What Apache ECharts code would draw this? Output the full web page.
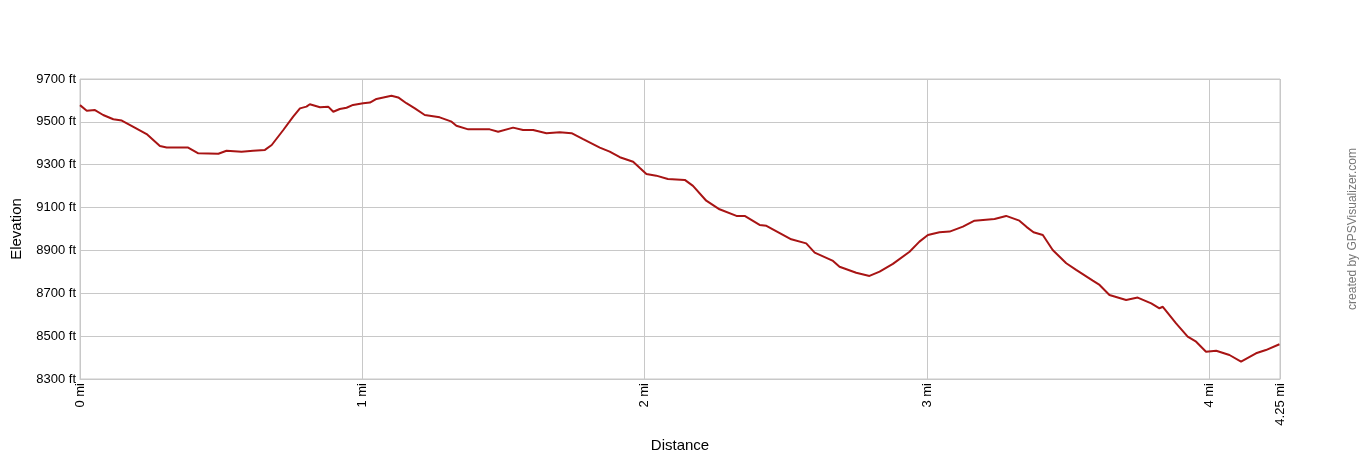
<!DOCTYPE html>
<html><head><meta charset="utf-8">
<script src="https://cdn.jsdelivr.net/npm/echarts@6/dist/echarts.min.js"></script>
<style>html,body{margin:0;padding:0;background:#fff}#c{width:1360px;height:460px}</style>
</head><body><div id="c"></div>
<script>
var distanceMi = [0.000,0.024,0.053,0.082,0.118,0.148,0.189,0.236,0.283,0.307,0.383,0.419,0.490,0.519,0.572,0.613,0.655,0.679,0.720,0.755,0.779,0.802,0.814,0.850,0.879,0.897,0.920,0.944,0.967,1.003,1.027,1.050,1.103,1.127,1.156,1.186,1.221,1.274,1.316,1.333,1.375,1.451,1.481,1.534,1.569,1.605,1.652,1.699,1.741,1.782,1.841,1.876,1.912,1.959,1.982,2.006,2.041,2.082,2.142,2.171,2.218,2.265,2.325,2.354,2.407,2.431,2.519,2.572,2.602,2.667,2.690,2.749,2.796,2.832,2.879,2.938,2.973,3.003,3.044,3.080,3.127,3.168,3.239,3.280,3.327,3.352,3.377,3.410,3.445,3.493,3.528,3.587,3.611,3.646,3.705,3.746,3.794,3.823,3.835,3.882,3.923,3.953,3.988,4.024,4.071,4.112,4.165,4.200,4.248];
var elevationFt = [9578,9552,9555,9532,9512,9506,9477,9443,9387,9380,9380,9353,9351,9365,9361,9365,9369,9392,9462,9524,9563,9571,9582,9568,9571,9547,9560,9566,9579,9587,9590,9607,9622,9614,9587,9563,9532,9521,9501,9482,9465,9465,9454,9473,9462,9462,9447,9451,9447,9419,9380,9361,9335,9314,9286,9257,9249,9233,9229,9201,9132,9092,9061,9061,9019,9015,8952,8933,8890,8851,8824,8796,8781,8801,8837,8894,8941,8972,8985,8988,9011,9039,9047,9061,9039,9010,8985,8972,8902,8840,8809,8759,8739,8692,8669,8680,8653,8630,8637,8560,8498,8474,8427,8432,8412,8381,8420,8435,8462];
var yTicks = {min: 8300, max: 9700, step: 200};
var xTicks = {min: 0, max: 4.25, step: 1};

var pts = distanceMi.map(function(d, i){ return [d, elevationFt[i]]; });
var chart = echarts.init(document.getElementById('c'), null, {renderer: 'canvas'});
var font = 'Liberation Sans, Arial, sans-serif';
chart.setOption({
  animation: false,
  backgroundColor: '#fff',
  grid: {left: 80, right: 80, top: 79, bottom: 81, show: true, borderColor: '#c8c8c8', borderWidth: 1},
  xAxis: {
    type: 'value', min: xTicks.min, max: xTicks.max, interval: xTicks.step,
    name: 'Distance', nameLocation: 'middle', nameGap: 59,
    nameTextStyle: {fontFamily: font, fontSize: 15, color: '#000'},
    axisLine: {show: true, lineStyle: {color: '#c8c8c8'}},
    axisTick: {show: false},
    splitLine: {show: true, lineStyle: {color: '#c8c8c8', width: 1}},
    axisLabel: {rotate: 90, margin: 4, fontFamily: font, fontSize: 13, color: '#000',
      showMaxLabel: true, formatter: function(v){ return v + ' mi'; }}
  },
  yAxis: {
    type: 'value', min: yTicks.min, max: yTicks.max, interval: yTicks.step,
    name: 'Elevation', nameLocation: 'middle', nameGap: 56, nameRotate: 90,
    nameTextStyle: {fontFamily: font, fontSize: 15, color: '#000'},
    axisLine: {show: false}, axisTick: {show: false},
    splitLine: {show: true, lineStyle: {color: '#c8c8c8', width: 1}},
    axisLabel: {margin: 4, fontFamily: font, fontSize: 13, color: '#000',
      formatter: function(v){ return v + ' ft'; }}
  },
  series: [{
    type: 'line', data: pts, showSymbol: false, symbol: 'none',
    lineStyle: {color: '#a81414', width: 2}, silent: true
  }],
  graphic: [{
    type: 'text', x: 1353, y: 229, rotation: Math.PI / 2,
    style: {text: 'created by GPSVisualizer.com', fill: '#777', font: '12px ' + font,
      textAlign: 'center', textVerticalAlign: 'middle'}
  }]
});
</script></body></html>
